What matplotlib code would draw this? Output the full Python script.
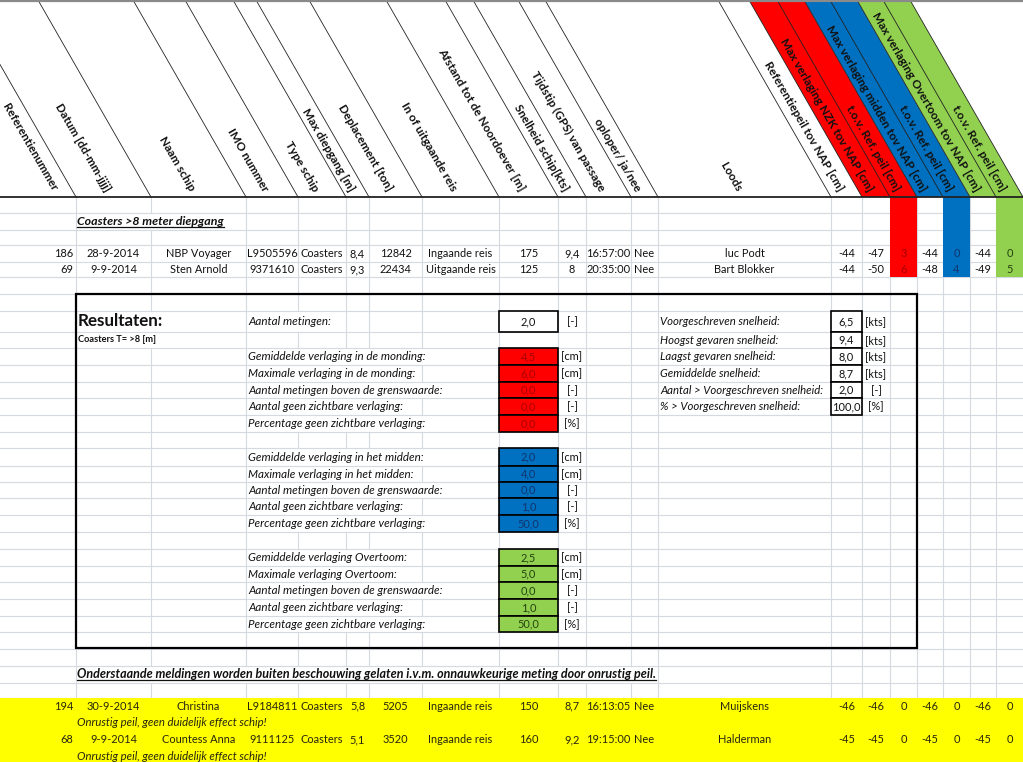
import matplotlib
matplotlib.use('Agg')
import matplotlib.pyplot as plt
from matplotlib.patches import Polygon, Rectangle

# ---------------- data ----------------
header_labels = ["Referentienummer", "Datum [dd-mm-jjjj]", "Naam schip", "IMO nummer",
                 "Type schip", "Max diepgang [m]", "Deplacement [ton]", "In of uitgaande reis",
                 "Afstand tot de Noordoever [m]", "Snelheid schip[kts]",
                 "Tijdstip (GPS) van passage", "oploper/ ja/nee", "Loods",
                 "Referentiepeil tov NAP [cm]", "Max verlaging NZK tov NAP [cm]",
                 "t.o.v. Ref. peil [cm]", "Max verlaging midden tov NAP [cm]",
                 "t.o.v. Ref. peil [cm]", "Max verlaging Overtoom tov NAP [cm]",
                 "t.o.v. Ref. peil [cm]"]

section_title = "Coasters >8 meter diepgang"
ref_nr = [186, 69]
datum = ["28-9-2014", "9-9-2014"]
naam = ["NBP Voyager", "Sten Arnold"]
imo = ["L9505596", "9371610"]
type_schip = ["Coasters", "Coasters"]
diepgang = [8.4, 9.3]
deplacement = [12842, 22434]
reis = ["Ingaande reis", "Uitgaande reis"]
afstand = [175, 125]
snelheid = [9.4, 8]
tijdstip = ["16:57:00", "20:35:00"]
oploper = ["Nee", "Nee"]
loods = ["luc Podt", "Bart Blokker"]
refpeil = [-44, -44]
nzk = [-47, -50]
nzk_rel = [3, 6]
midden = [-44, -48]
midden_rel = [0, 4]
overtoom = [-44, -49]
overtoom_rel = [0, 5]

results_title = "Resultaten:"
results_subtitle = "Coasters T= >8 [m]"
aantal_label = "Aantal metingen:"
aantal_value = 2.0
monding_labels = ["Gemiddelde verlaging in de monding:", "Maximale verlaging in de monding:",
                  "Aantal metingen boven de grenswaarde:", "Aantal geen zichtbare verlaging:",
                  "Percentage geen zichtbare verlaging:"]
monding_values = [4.5, 6.0, 0.0, 0.0, 0.0]
midden_labels = ["Gemiddelde verlaging in het midden:", "Maximale verlaging in het midden:",
                 "Aantal metingen boven de grenswaarde:", "Aantal geen zichtbare verlaging:",
                 "Percentage geen zichtbare verlaging:"]
midden_values = [2.0, 4.0, 0.0, 1.0, 50.0]
overtoom_labels = ["Gemiddelde verlaging Overtoom:", "Maximale verlaging Overtoom:",
                   "Aantal metingen boven de grenswaarde:", "Aantal geen zichtbare verlaging:",
                   "Percentage geen zichtbare verlaging:"]
overtoom_values = [2.5, 5.0, 0.0, 1.0, 50.0]
verlaging_units = ["[cm]", "[cm]", "[-]", "[-]", "[%]"]
speed_labels = ["Voorgeschreven snelheid:", "Hoogst gevaren snelheid:", "Laagst gevaren snelheid:",
                "Gemiddelde snelheid:", "Aantal > Voorgeschreven snelheid:",
                "% > Voorgeschreven snelheid:"]
speed_values = [6.5, 9.4, 8.0, 8.7, 2.0, 100.0]
speed_units = ["[kts]", "[kts]", "[kts]", "[kts]", "[-]", "[%]"]

excluded_note = ("Onderstaande meldingen worden buiten beschouwing gelaten i.v.m. "
                 "onnauwkeurige meting door onrustig peil.")
excl_comment = "Onrustig peil, geen duidelijk effect schip!"
ex_ref_nr = [194, 68]
ex_datum = ["30-9-2014", "9-9-2014"]
ex_naam = ["Christina", "Countess Anna"]
ex_imo = ["L9184811", "9111125"]
ex_type = ["Coasters", "Coasters"]
ex_diepgang = [5.8, 5.1]
ex_deplacement = [5205, 3520]
ex_reis = ["Ingaande reis", "Ingaande reis"]
ex_afstand = [150, 160]
ex_snelheid = [8.7, 9.2]
ex_tijdstip = ["16:13:05", "19:15:00"]
ex_oploper = ["Nee", "Nee"]
ex_loods = ["Muijskens", "Halderman"]
ex_refpeil = [-46, -45]
ex_nzk = [-46, -45]
ex_nzk_rel = [0, 0]
ex_midden = [-46, -45]
ex_midden_rel = [0, 0]
ex_overtoom = [-46, -45]
ex_overtoom_rel = [0, 0]

# ---------------- layout ----------------
W, H = 1023, 762
col_edges = [0, 76, 151, 246, 298, 346, 369, 422, 499, 558, 586, 631, 658, 831,
             862, 890, 917, 943, 970, 996, 1023]
row_edges = [197, 213, 230, 245, 262, 277, 294, 311, 332, 348, 365, 382, 398, 415, 432,
             448, 466, 482, 498, 515, 532, 549, 566, 582, 599, 616, 632, 649, 666, 683,
             698, 714, 731, 748, 764]
HEADER_BOTTOM = 197
SLANT = 113
RED, BLUE, GREEN, YELLOW = "#FF0000", "#0070C0", "#92D050", "#FFFF00"
RED_T, BLUE_T, GREEN_T = "#A80000", "#12356E", "#24420F"
GRID = "#D5D9E0"
TXT = "#111111"

FONT = ['Lato', 'DejaVu Sans']
plt.rcParams['font.family'] = FONT

fig = plt.figure(figsize=(W / 100, H / 100), dpi=100)
ax = fig.add_axes([0, 0, 1, 1])
ax.set_xlim(0, W)
ax.set_ylim(H, 0)
ax.axis('off')
renderer = fig.canvas.get_renderer()


def fit_size(s, target_px, **kw):
    """font size (pt) at which string s is target_px wide"""
    t = ax.text(0, 0, s, fontsize=10, **kw)
    w = t.get_window_extent(renderer).width
    t.remove()
    return 10.0 * target_px / w


FS = fit_size("Ingaande reis", 64)
FS_H = fit_size("Max verlaging Overtoom tov NAP [cm]", 203, fontweight='bold')
FS_L = fit_size("Gemiddelde verlaging in de monding:", 178, fontstyle='italic')
FS_S = fit_size("Aantal > Voorgeschreven snelheid:", 164, fontstyle='italic')
FS_RES = fit_size(results_title, 86, fontweight='bold')
FS_SUB = fit_size(results_subtitle, 78, fontweight='bold')
FS_SEC = fit_size(section_title, 146, fontweight='bold', fontstyle='italic')
FS_NOTE = fit_size(excluded_note, 579, fontweight='bold', fontstyle='italic')
FS_COM = fit_size(excl_comment, 190, fontstyle='italic')


def rc(r):
    return (row_edges[r] + row_edges[r + 1]) / 2.0


def cc(c):
    return (col_edges[c] + col_edges[c + 1]) / 2.0


def fmt(v):
    if isinstance(v, float):
        return ("%g" % v).replace('.', ',')
    return str(v)


def fmt1(v):
    return ("%.1f" % v).replace('.', ',')


def put(x, r, s, ha='center', size=None, color=TXT, style='normal', weight='normal', z=5, dy=3.6):
    return ax.text(x, rc(r) + dy, s, ha=ha, va='baseline', fontsize=size or FS, color=color,
                   fontstyle=style, fontweight=weight, zorder=z)


overflow = []   # (row, text artist) left-aligned overflowing texts
underline = []

# ---------------- header ----------------
ax.plot([0, W], [1.2, 1.2], color='#8a8a8a', lw=1.6, zorder=6)
for (a, b, col) in [(862, 917, RED), (917, 970, BLUE), (970, 1023, GREEN)]:
    ax.add_patch(Polygon([(a, HEADER_BOTTOM), (b, HEADER_BOTTOM), (b - SLANT, 0), (a - SLANT, 0)],
                         closed=True, facecolor=col, edgecolor='none', zorder=2))
for e in col_edges[1:]:
    ax.plot([e, e - SLANT], [HEADER_BOTTOM, 0], color='#222222', lw=0.6, zorder=3)
for i, lab in enumerate(header_labels):
    x = cc(i) - 6 if i > 0 else 55
    ax.text(x, 190.5, lab, rotation=-60, rotation_mode='anchor', ha='right', va='center',
            fontsize=FS_H, fontweight='bold', color=TXT, zorder=5)
ax.plot([0, W], [HEADER_BOTTOM, HEADER_BOTTOM], color='#222222', lw=1.3, zorder=6)

# ---------------- coloured data columns ----------------
for c, col in [(15, RED), (17, BLUE), (19, GREEN)]:
    ax.add_patch(Rectangle((col_edges[c], HEADER_BOTTOM), col_edges[c + 1] - col_edges[c],
                           row_edges[5] - HEADER_BOTTOM, facecolor=col, edgecolor='none', zorder=2))

# ---------------- main data rows ----------------
t = put(77, 1, section_title, ha='left', size=FS_SEC, style='italic', weight='bold')
overflow.append((1, t)); underline.append(t)

main_cols = [ref_nr, datum, naam, imo, type_schip, diepgang, deplacement, reis, afstand,
             snelheid, tijdstip, oploper, loods, refpeil, nzk, nzk_rel, midden, midden_rel,
             overtoom, overtoom_rel]
ex_cols = [ex_ref_nr, ex_datum, ex_naam, ex_imo, ex_type, ex_diepgang, ex_deplacement, ex_reis,
           ex_afstand, ex_snelheid, ex_tijdstip, ex_oploper, ex_loods, ex_refpeil, ex_nzk,
           ex_nzk_rel, ex_midden, ex_midden_rel, ex_overtoom, ex_overtoom_rel]
special_col = {15: RED_T, 17: BLUE_T, 19: GREEN_T}


def data_row(cols, i, r, colors=True):
    for c, vals in enumerate(cols):
        s = fmt(vals[i])
        color = special_col.get(c, TXT) if colors else "#262610"
        if c == 0:
            put(col_edges[1] - 3, r, s, ha='right', color=color)
        else:
            put(cc(c), r, s, color=color)


for i in range(len(ref_nr)):
    data_row(main_cols, i, 3 + i)

# ---------------- results box ----------------
t = put(78, 7, results_title, ha='left', size=FS_RES, weight='bold', dy=4.2)
overflow.append((7, t))
t = put(78, 8, results_subtitle, ha='left', size=FS_SUB, weight='bold', dy=2.5)
overflow.append((8, t))

t = put(248, 7, aantal_label, ha='left', size=FS_L, style='italic')
overflow.append((7, t))
ax.add_patch(Rectangle((499, row_edges[7]), 59, row_edges[8] - row_edges[7], facecolor='white',
                       edgecolor='black', lw=1.2, zorder=4))
put(cc(8), 7, fmt1(aantal_value))
put(cc(9), 7, "[-]")

for start, labels, values, fill, tcol in [(9, monding_labels, monding_values, RED, RED_T),
                                           (15, midden_labels, midden_values, BLUE, BLUE_T),
                                           (21, overtoom_labels, overtoom_values, GREEN, GREEN_T)]:
    for k, (lab, v, u) in enumerate(zip(labels, values, verlaging_units)):
        r = start + k
        t = put(248, r, lab, ha='left', size=FS_L, style='italic')
        overflow.append((r, t))
        ax.add_patch(Rectangle((499, row_edges[r]), 59, row_edges[r + 1] - row_edges[r],
                               facecolor=fill, edgecolor='black', lw=1.2, zorder=4))
        put(cc(8), r, fmt1(v), color=tcol)
        put(cc(9), r, u)

for k, (lab, v, u) in enumerate(zip(speed_labels, speed_values, speed_units)):
    r = 7 + k
    t = put(660, r, lab, ha='left', size=FS_S, style='italic')
    overflow.append((r, t))
    ax.add_patch(Rectangle((831, row_edges[r]), 31, row_edges[r + 1] - row_edges[r],
                           facecolor='white', edgecolor='black', lw=1.2, zorder=4))
    put(cc(13), r, fmt1(v))
    put(cc(14), r, u)

ax.add_patch(Rectangle((76, 294), 917 - 76, 648 - 294, facecolor='none', edgecolor='black',
                       lw=1.6, zorder=6))

# ---------------- excluded section ----------------
t = put(77, 28, excluded_note, ha='left', size=FS_NOTE, style='italic', weight='bold')
overflow.append((28, t)); underline.append(t)

ax.add_patch(Rectangle((0, 698), W, H - 698, facecolor=YELLOW, edgecolor='none', zorder=2))
for i in range(len(ex_ref_nr)):
    data_row(ex_cols, i, 30 + 2 * i, colors=False)
    put(77, 31 + 2 * i, excl_comment, ha='left', size=FS_COM, style='italic', color="#262610")

# ---------------- gridlines (respecting overflowing text) ----------------
fig.canvas.draw()
renderer = fig.canvas.get_renderer()
inv = ax.transData.inverted()
suppress = {}
for r, art in overflow:
    bb = art.get_window_extent(renderer)
    (x0, _), (x1, _) = inv.transform([(bb.x0, bb.y0), (bb.x1, bb.y1)])
    suppress.setdefault(r, []).append((min(x0, x1) - 1, max(x0, x1) + 1))

for r in range(30):
    y0, y1 = row_edges[r], row_edges[r + 1]
    for e in col_edges[1:-1]:
        if any(a < e < b for a, b in suppress.get(r, [])):
            continue
        ax.plot([e, e], [y0, y1], color=GRID, lw=0.8, zorder=1)
for y in row_edges[1:31]:
    ax.plot([0, W], [y, y], color=GRID, lw=0.8, zorder=1)

for art in underline:
    bb = art.get_window_extent(renderer)
    (x0, _), (x1, _) = inv.transform([(bb.x0, bb.y0), (bb.x1, bb.y1)])
    xb, yb = art.get_position()
    ax.plot([x0, x1], [yb + 2.2, yb + 2.2], color=TXT, lw=0.9, zorder=5)

fig.savefig("out.png", dpi=100, facecolor='white')
